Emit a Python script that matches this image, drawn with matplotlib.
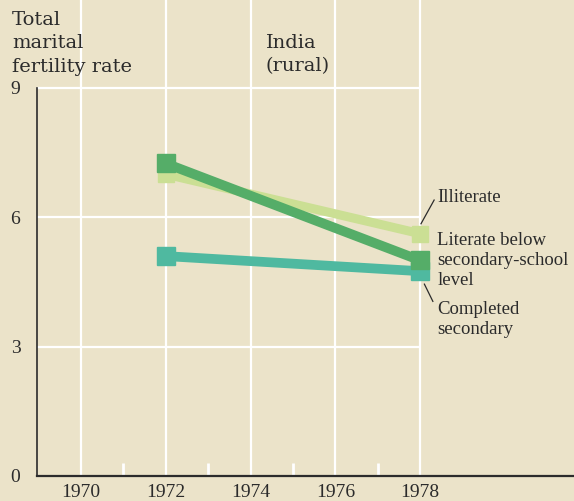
import matplotlib.pyplot as plt

# data
years = [1972, 1978]
illiterate = [7.0, 5.62]
literate_below = [7.25, 5.0]
completed_secondary = [5.1, 4.75]

x_ticks = [1970, 1972, 1974, 1976, 1978]
y_ticks = [0, 3, 6, 9]

BG = "#ebe3c9"
INK = "#2b2b2b"
FONT = "Liberation Serif"
HEAD_FONT = "DejaVu Serif"

fig = plt.figure(figsize=(5.74, 5.01), dpi=100, facecolor=BG)
ax = fig.add_axes([37 / 574, 25 / 501, 537 / 574, 476 / 501], facecolor=BG)

x0, x1 = 1968.96, 1981.63
y0, y1 = 0, 11.04
ax.set_xlim(x0, x1)
ax.set_ylim(y0, y1)

# white grid, only up to 1978
ax.vlines(x_ticks, y0, y1, color="white", lw=1.6, zorder=1)
ax.hlines(y_ticks[1:], x0, 1978, color="white", lw=1.6, zorder=1)
ax.vlines([1971, 1973, 1975, 1977], 0, 0.3, color="white", lw=2, zorder=1)

ax.plot(years, completed_secondary, color="#4fb9a0", lw=7, marker="s", ms=13,
        solid_capstyle="butt", zorder=3)
ax.plot(years, illiterate, color="#cbdf94", lw=6.5, marker="s", ms=12,
        solid_capstyle="butt", zorder=2)
ax.plot(years, literate_below, color="#55ad68", lw=7, marker="s", ms=13,
        solid_capstyle="butt", zorder=4)

for side in ("top", "right"):
    ax.spines[side].set_visible(False)
ax.spines["left"].set_bounds(0, 9)
ax.spines["left"].set_color(INK)
ax.spines["left"].set_linewidth(1.2)
ax.spines["bottom"].set_color(INK)
ax.spines["bottom"].set_linewidth(1.6)

ax.set_xticks(x_ticks)
ax.set_yticks(y_ticks)
ax.tick_params(length=0, labelsize=14, colors=INK)
ax.tick_params(axis="y", pad=12)
ax.tick_params(axis="x", pad=6)
for lab in ax.get_xticklabels() + ax.get_yticklabels():
    lab.set_family(FONT)

txt = dict(fontsize=13.5, color=INK, family=FONT, linespacing=1.22)
head = dict(fontsize=14, color=INK, family=HEAD_FONT, linespacing=1.38)
fig.text(12 / 574, 1 - 11 / 501, "Total\nmarital\nfertility rate", va="top", ha="left", **head)
ax.text(1974.35, 10.25, "India\n(rural)", va="top", ha="left", **head)

ax.text(1978.4, 6.47, "Illiterate", va="center", ha="left", **txt)
ax.text(1978.4, 5.66, "Literate below\nsecondary-school\nlevel", va="top", ha="left", **txt)
ax.text(1978.4, 4.05, "Completed\nsecondary", va="top", ha="left", **txt)
ax.plot([1978.02, 1978.33], [5.85, 6.4], color=INK, lw=0.9)
ax.plot([1978.1, 1978.3], [4.45, 4.05], color=INK, lw=0.9)

fig.savefig("out.png", dpi=100, facecolor=BG)
